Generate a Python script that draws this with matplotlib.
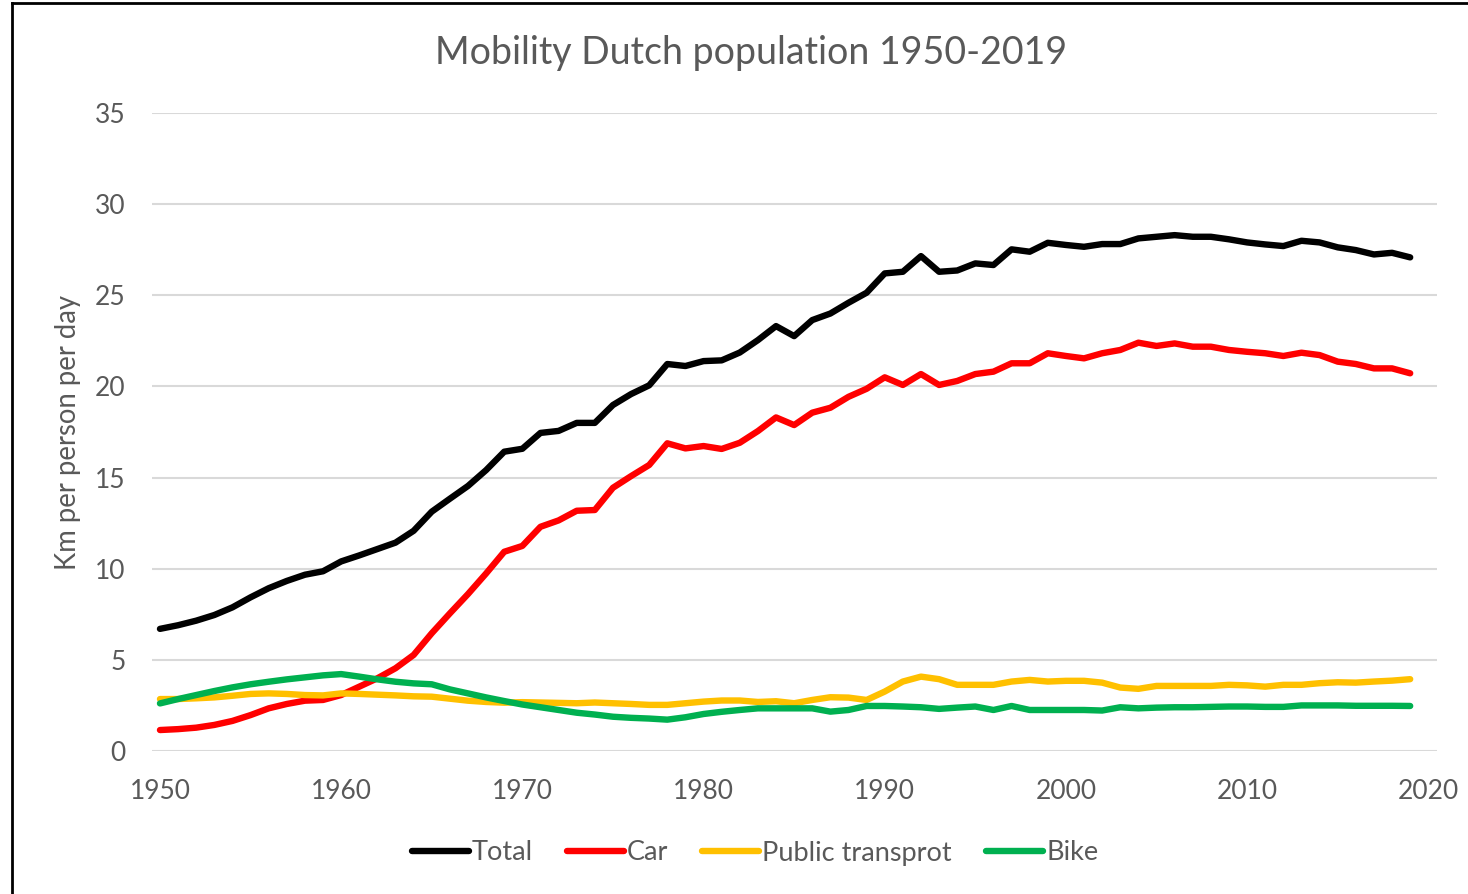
import matplotlib
matplotlib.use("Agg")
import matplotlib.pyplot as plt
from matplotlib.lines import Line2D

# Data (km per person per day)
years = list(range(1950, 2020))

total = [6.70, 6.90, 7.15, 7.46, 7.88, 8.43, 8.93, 9.33, 9.67, 9.86,
         10.40, 10.73, 11.08, 11.43, 12.08, 13.13, 13.84, 14.54, 15.41, 16.42,
         16.58, 17.45, 17.56, 18.00, 18.00, 18.98, 19.58, 20.06, 21.23, 21.12,
         21.39, 21.43, 21.86, 22.54, 23.31, 22.76, 23.64, 24.00, 24.59, 25.14,
         26.20, 26.29, 27.15, 26.29, 26.36, 26.75, 26.66, 27.52, 27.39, 27.88,
         27.76, 27.66, 27.81, 27.81, 28.12, 28.21, 28.30, 28.21, 28.21, 28.07,
         27.90, 27.79, 27.70, 27.99, 27.90, 27.63, 27.48, 27.24, 27.33, 27.08]

car = [1.15, 1.20, 1.28, 1.43, 1.65, 1.97, 2.34, 2.58, 2.76, 2.80,
       3.07, 3.53, 3.99, 4.54, 5.27, 6.46, 7.55, 8.61, 9.74, 10.93,
       11.25, 12.30, 12.65, 13.18, 13.22, 14.44, 15.08, 15.69, 16.88, 16.60,
       16.73, 16.57, 16.91, 17.55, 18.30, 17.88, 18.56, 18.83, 19.43, 19.87,
       20.50, 20.08, 20.68, 20.08, 20.30, 20.68, 20.81, 21.27, 21.27, 21.82,
       21.67, 21.54, 21.82, 22.00, 22.40, 22.22, 22.36, 22.18, 22.18, 22.00,
       21.90, 21.82, 21.67, 21.85, 21.72, 21.36, 21.23, 20.99, 20.99, 20.72]

public_transport = [2.85, 2.85, 2.89, 2.94, 3.03, 3.13, 3.16, 3.13, 3.07, 3.05,
                    3.16, 3.13, 3.09, 3.05, 3.00, 2.98, 2.87, 2.76, 2.69, 2.65,
                    2.68, 2.66, 2.64, 2.62, 2.66, 2.62, 2.58, 2.53, 2.53, 2.62,
                    2.71, 2.77, 2.77, 2.69, 2.73, 2.62, 2.80, 2.95, 2.93, 2.80,
                    3.26, 3.81, 4.08, 3.94, 3.63, 3.63, 3.63, 3.81, 3.90, 3.81,
                    3.85, 3.85, 3.75, 3.48, 3.41, 3.57, 3.57, 3.57, 3.57, 3.63,
                    3.60, 3.53, 3.63, 3.63, 3.72, 3.77, 3.75, 3.81, 3.86, 3.94]

bike = [2.61, 2.85, 3.07, 3.29, 3.49, 3.66, 3.80, 3.93, 4.04, 4.15,
        4.22, 4.08, 3.93, 3.80, 3.71, 3.66, 3.38, 3.16, 2.94, 2.74,
        2.55, 2.40, 2.25, 2.10, 2.00, 1.88, 1.82, 1.78, 1.72, 1.85,
        2.03, 2.15, 2.25, 2.34, 2.34, 2.34, 2.34, 2.16, 2.25, 2.47,
        2.47, 2.44, 2.40, 2.31, 2.38, 2.44, 2.25, 2.47, 2.25, 2.25,
        2.25, 2.25, 2.22, 2.40, 2.34, 2.38, 2.40, 2.40, 2.42, 2.44,
        2.44, 2.42, 2.42, 2.50, 2.50, 2.50, 2.48, 2.48, 2.48, 2.47]

series_names = ["Total", "Car", "Public transprot", "Bike"]
series_colors = ["#000000", "#FF0000", "#FFC000", "#00B050"]

plt.rcParams["font.family"] = ["Lato", "DejaVu Sans"]
text_gray = "#595959"

fig = plt.figure(figsize=(14.68, 8.94), dpi=100)
ax = fig.add_axes([152 / 1468, 1 - 751 / 894, (1437 - 152) / 1468, (751 - 113) / 894])

# Plot the four series
all_series = [total, car, public_transport, bike]
for vals, name, col in zip(all_series, series_names, series_colors):
    ax.plot(years, vals, color=col, lw=4.6, label=name,
            solid_capstyle="round", solid_joinstyle="round")

ax.set_xlim(1949.56, 2020.48)
ax.set_ylim(0, 35)
ax.set_xticks(range(1950, 2021, 10))
ax.set_yticks(range(0, 36, 5))

# Excel-like light horizontal gridlines, no spines
ax.grid(axis="y", color="#d9d9d9", lw=1.5)
ax.set_axisbelow(True)
for s in ax.spines.values():
    s.set_visible(False)
ax.tick_params(axis="both", length=0, labelsize=19, labelcolor=text_gray)
ax.tick_params(axis="y", pad=19)
ax.tick_params(axis="x", pad=20)

# Title and y axis label
fig.text(751 / 1468, 1 - 53 / 894, "Mobility Dutch population 1950-2019",
         ha="center", va="center", fontsize=27, color=text_gray)
fig.text(68 / 1468, 1 - 433 / 894, "Km per person per day", rotation=90,
         ha="center", va="center", fontsize=19.8, color=text_gray)

# Legend below the plot
handles = [Line2D([], [], color=c, lw=4.6, solid_capstyle="round") for c in series_colors]
leg = fig.legend(handles, series_names, loc="center", ncol=4,
                 bbox_to_anchor=(755 / 1468, 1 - 853 / 894), frameon=False,
                 fontsize=19.5, handlelength=2.1, handletextpad=0.12,
                 columnspacing=1.25)
for t in leg.get_texts():
    t.set_color(text_gray)

# Partial outer border (left and top edges visible in the reference)
fig.add_artist(Line2D([12 / 1468, 12 / 1468], [0, 1 - 3 / 894],
                      transform=fig.transFigure, color="black", lw=2))
fig.add_artist(Line2D([12 / 1468, 1], [1 - 3 / 894, 1 - 3 / 894],
                      transform=fig.transFigure, color="black", lw=2))

fig.savefig("out.png", dpi=100)
